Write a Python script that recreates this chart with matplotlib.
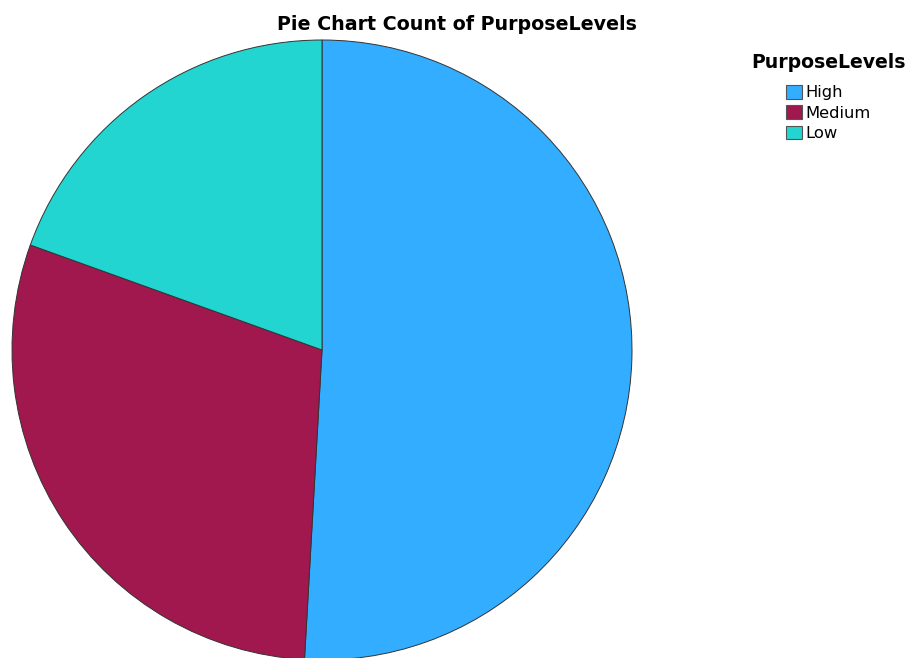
import matplotlib.pyplot as plt

plt.rcParams["font.family"] = ["DejaVu Sans"]

levels = ["High", "Medium", "Low"]
shares = [50.9, 29.6, 19.5]
colors = ["#33adff", "#a0184e", "#22d5d0"]

fig = plt.figure(figsize=(9.08, 6.58), dpi=100)

# square box for the pie; it runs a little past the bottom edge
ax = fig.add_axes([12 / 908, -2 / 658, 620 / 908, 620 / 658])
wedges, _ = ax.pie(
    shares,
    colors=colors,
    startangle=90,
    counterclock=False,
    radius=1.0,
    wedgeprops=dict(edgecolor="#333333", linewidth=0.7),
)
ax.set_xlim(-1, 1)
ax.set_ylim(-1, 1)
ax.set_aspect("auto")
ax.axis("off")

fig.text(457 / 908, 1 - 24 / 658, "Pie Chart Count of PurposeLevels",
         ha="center", va="center", fontsize=13.7, fontweight="bold")

leg = fig.legend(
    wedges, levels,
    title="PurposeLevels",
    loc="upper left",
    bbox_to_anchor=(740 / 908, 1 - 42 / 658),
    frameon=False,
    fontsize=11.8,
    title_fontproperties={"weight": "bold", "size": 13.6},
    handlelength=0.95,
    handleheight=0.9,
    handletextpad=0.25,
    labelspacing=0.3,
    borderpad=0.2,
)
leg._legend_box.sep = 9
for h in leg.legend_handles:
    h.set_edgecolor("#555555")
    h.set_linewidth(0.8)

fig.savefig("out.png", dpi=100)
